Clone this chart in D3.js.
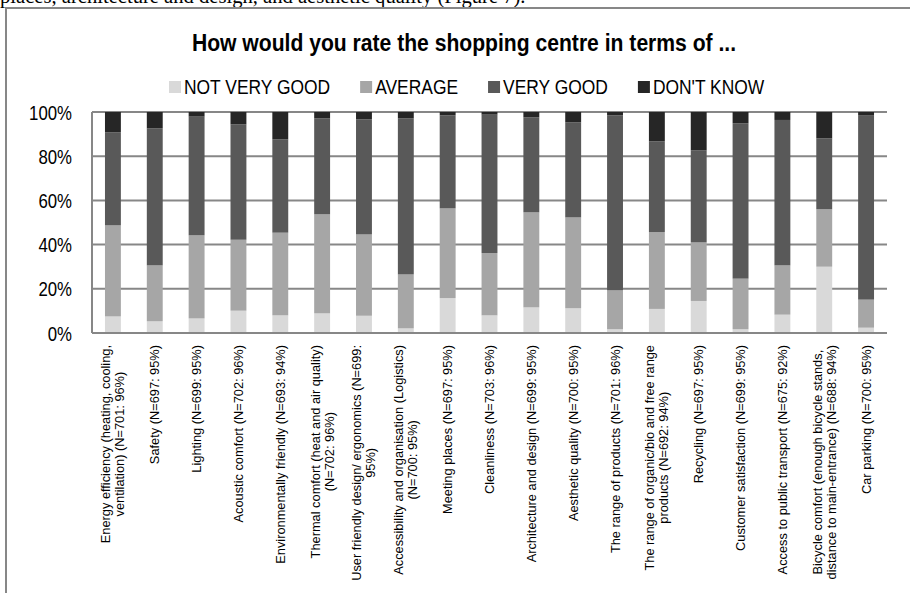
<!DOCTYPE html>
<meta charset="utf-8">
<html>
<head>
<title>shopping centre rating</title>
<style>
  body { margin: 0; background: #fff; }
  text { fill: #000; }
</style>
<script src="https://d3js.org/d3.v7.min.js"></script>
</head>
<body>
<div id="chart"></div>
<script>

// categories (line breaks as in the original axis labels)
var categories = [
  "Energy efficiency (heating, cooling,\nventilation) (N=701: 96%)",
  "Safety (N=697: 95%)",
  "Lighting (N=699: 95%)",
  "Acoustic comfort (N=702: 96%)",
  "Environmentally friendly (N=693: 94%)",
  "Thermal comfort (heat and air quality)\n(N=702: 96%)",
  "User friendly design/ ergonomics (N=699:\n95%)",
  "Accessibility and organisation (Logistics)\n(N=700: 95%)",
  "Meeting places (N=697: 95%)",
  "Cleanliness (N=703: 96%)",
  "Architecture and design (N=699: 95%)",
  "Aesthetic quality (N=700: 95%)",
  "The range of products (N=701: 96%)",
  "The range of organic/bio and free range\nproducts (N=692: 94%)",
  "Recycling (N=697: 95%)",
  "Customer satisfaction (N=699: 95%)",
  "Access to public transport (N=675: 92%)",
  "Bicycle comfort (enough bicycle stands,\ndistance to main-entrance) (N=688: 94%)",
  "Car parking (N=700: 95%)"
];

// shares in %
var notVeryGood = [7.5, 5.3, 6.6, 10.1, 8.0, 8.9, 7.8, 2.1, 15.8, 8.0, 11.6, 11.2, 1.7, 10.9, 14.5, 1.7, 8.3, 30.0, 2.4];
var average     = [41.2, 25.3, 37.6, 32.1, 37.4, 44.8, 36.8, 24.4, 40.6, 28.2, 43.0, 41.1, 17.6, 34.8, 26.5, 22.9, 22.3, 26.0, 12.7];
var veryGood    = [42.1, 62.0, 53.7, 52.2, 42.2, 43.4, 52.1, 70.6, 42.1, 62.6, 43.0, 43.0, 79.2, 41.0, 41.7, 70.3, 65.8, 32.1, 83.5];
var dontKnow    = [9.2, 7.4, 2.1, 5.6, 12.4, 2.9, 3.3, 2.9, 1.5, 1.2, 2.4, 4.7, 1.5, 13.3, 17.3, 5.1, 3.6, 11.9, 1.4];

var seriesNames = ["NOT VERY GOOD", "AVERAGE", "VERY GOOD", "DON'T KNOW"];
var yTicks = [0, 20, 40, 60, 80, 100];

var colors = ["#d9d9d9", "#a6a6a6", "#595959", "#262626"];
var gridColor = "#878787";

var W = 910, H = 593;
var margin = {top: 112, right: 23, bottom: 260, left: 92};
var width = W - margin.left - margin.right,
    height = H - margin.top - margin.bottom;

var svg = d3.select("#chart").append("svg")
    .attr("width", W)
    .attr("height", H)
    .style("display", "block");

// bit of the report text above the figure, mostly cut off
svg.append("text")
    .attr("x", 0)
    .attr("y", 3)
    .style("font-family", "'Liberation Serif', 'Times New Roman', serif")
    .style("font-size", "20.6px")
    .text("places, architecture and design, and aesthetic quality (Figure 7).");

// figure frame
svg.append("path")
    .attr("d", "M6," + H + "V8H" + W)
    .attr("fill", "none")
    .attr("stroke", gridColor)
    .attr("stroke-width", 2);

// title
svg.append("text")
    .attr("transform", "translate(464,51) scale(0.88,1)")
    .attr("text-anchor", "middle")
    .style("font-family", "'Liberation Sans', Arial, sans-serif")
    .style("font-weight", "bold")
    .style("font-size", "24px")
    .text("How would you rate the shopping centre in terms of ...");

// legend
var lx = 169;
seriesNames.forEach(function(name, i) {
  svg.append("rect")
      .attr("x", lx).attr("y", 81)
      .attr("width", 12).attr("height", 12)
      .attr("fill", colors[i]);
  var t = svg.append("text")
      .attr("transform", "translate(" + (lx + 15) + ",94) scale(0.83,1)")
      .style("font-family", "'Liberation Sans', Arial, sans-serif")
      .style("font-size", "21px")
      .text(name);
  lx += 15 + t.node().getComputedTextLength() * 0.83 + 30;
});

var g = svg.append("g")
    .attr("transform", "translate(" + margin.left + "," + margin.top + ")");

var x = d3.scaleBand()
    .domain(categories)
    .range([0, width])
    .paddingInner(0.62)
    .paddingOuter(0.31);

var y = d3.scaleLinear()
    .domain([0, 100])
    .range([height, 0]);

// gridlines
g.selectAll(".grid")
    .data(yTicks)
  .enter().append("line")
    .attr("x1", 0).attr("x2", width)
    .attr("y1", function(d) { return y(d); })
    .attr("y2", function(d) { return y(d); })
    .attr("stroke", gridColor)
    .attr("stroke-width", 2);

g.append("line")
    .attr("x1", 0).attr("x2", 0)
    .attr("y1", 0).attr("y2", height)
    .attr("stroke", gridColor)
    .attr("stroke-width", 2);

// y tick labels
g.selectAll(".ytick")
    .data(yTicks)
  .enter().append("text")
    .attr("transform", function(d) { return "translate(-20," + (y(d) + 7.5) + ") scale(0.8,1)"; })
    .attr("text-anchor", "end")
    .style("font-family", "'Liberation Sans', Arial, sans-serif")
    .style("font-size", "21px")
    .text(function(d) { return d + "%"; });

// stacked bars
var rows = categories.map(function(c, i) {
  return {cat: c, s0: notVeryGood[i], s1: average[i], s2: veryGood[i], s3: dontKnow[i]};
});
var stack = d3.stack().keys(["s0", "s1", "s2", "s3"]);
var layers = stack(rows);

g.selectAll(".layer")
    .data(layers)
  .enter().append("g")
    .attr("fill", function(d, i) { return colors[i]; })
  .selectAll("rect")
    .data(function(d) { return d; })
  .enter().append("rect")
    .attr("x", function(d) { return x(d.data.cat); })
    .attr("width", x.bandwidth())
    .attr("y", function(d) { return y(d[1]); })
    .attr("height", function(d) { return y(d[0]) - y(d[1]); });

// bottom axis line over the bar feet
g.append("line")
    .attr("x1", 0).attr("x2", width)
    .attr("y1", height).attr("y2", height)
    .attr("stroke", gridColor)
    .attr("stroke-width", 2);

// rotated category labels
categories.forEach(function(c) {
  var lines = c.split("\n");
  var cx = x(c) + x.bandwidth() / 2;
  var t = g.append("text")
      .attr("text-anchor", "middle")
      .style("font-family", "'Liberation Sans', Arial, sans-serif")
      .style("font-size", "12.8px");
  lines.forEach(function(l, i) {
    t.append("tspan")
        .attr("x", 0)
        .attr("y", (i - (lines.length - 1) / 2) * 14 + 4.5)
        .text(l);
  });
  var maxLen = d3.max(t.selectAll("tspan").nodes(), function(n) { return n.getComputedTextLength(); });
  t.attr("transform", "translate(" + cx + "," + (height + 12 + maxLen / 2) + ") rotate(-90)");
});

</script>
</body>
</html>
